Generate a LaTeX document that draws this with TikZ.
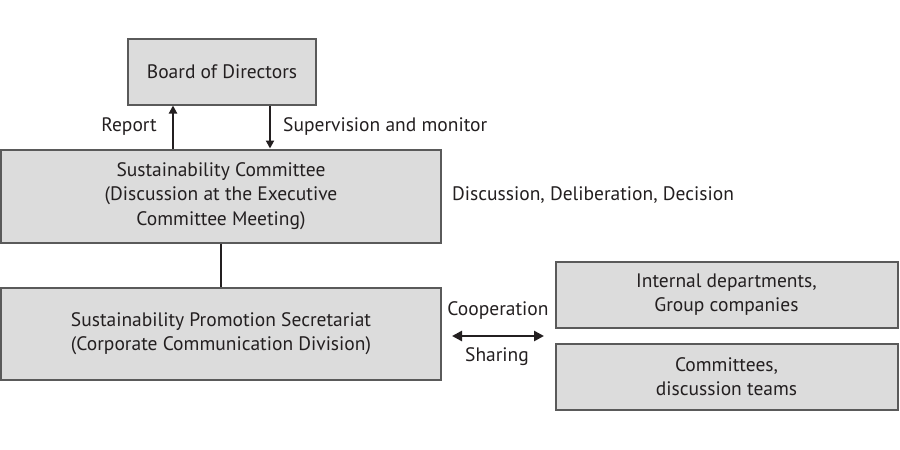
\documentclass[tikz,border=0pt]{standalone}
\usepackage{fontspec}
\setmainfont{PT Sans}
\usetikzlibrary{arrows.meta}
\definecolor{boxfill}{HTML}{DCDCDC}
\definecolor{boxline}{HTML}{5A5A5A}
\definecolor{txt}{HTML}{231F20}
\begin{document}
\begin{tikzpicture}[x=1pt,y=-1pt,
  box/.style={draw=boxline,line width=2pt,fill=boxfill,inner sep=0pt,text=txt,align=center,font=\fontsize{19.5}{24.5}\selectfont},
  lbl/.style={text=txt,font=\fontsize{19.5}{24}\selectfont,inner sep=0pt},
  conn/.style={draw=txt,line width=2.8pt},
  arr/.style={conn,-{Triangle[length=8pt,width=8pt]}}]
\useasboundingbox (0,0) rectangle (900,450);
\node[box,minimum width=188pt,minimum height=66pt] (board) at (222,71.5) {Board of Directors};
\node[box,minimum width=440pt,minimum height=93pt] (sc) at (221,196) {Sustainability Committee\\(Discussion at the Executive\\Committee Meeting)};
\node[box,minimum width=440pt,minimum height=92pt] (sec) at (221,333.5) {\raisebox{-3pt}{\begin{tabular}{@{}c@{}}Sustainability Promotion Secretariat\\(Corporate Communication Division)\end{tabular}}};
\node[box,minimum width=342pt,minimum height=66pt] (int) at (726.5,294.5) {Internal departments,\\Group companies};
\node[box,minimum width=342pt,minimum height=66pt] (com) at (726.5,376.5) {Committees,\\discussion teams};
\coordinate (rp) at (173,0);
\coordinate (sp) at (270,0);
\draw[arr] (sc.north -| rp) -- (board.south -| rp);
\draw[arr] (board.south -| sp) -- (sc.north -| sp);
\draw[conn] (sc.south) -- (sec.north);
\coordinate (la) at (452,336);
\coordinate (ra) at (544,336);
\draw[conn,{Triangle[length=10pt,width=10pt]}-{Triangle[length=10pt,width=10pt]}] (la) -- (ra);
\node[lbl,anchor=east] (report) at (157,127) {Report};
\node[lbl,anchor=west] (sup) at (283,127) {Supervision and monitor};
\node[lbl,anchor=west] (ddd) at (452,195) {Discussion, Deliberation, Decision};
\node[lbl] (coop) at (498,311) {Cooperation};
\node[lbl] (share) at (497,357) {Sharing};
\end{tikzpicture}
\end{document}
